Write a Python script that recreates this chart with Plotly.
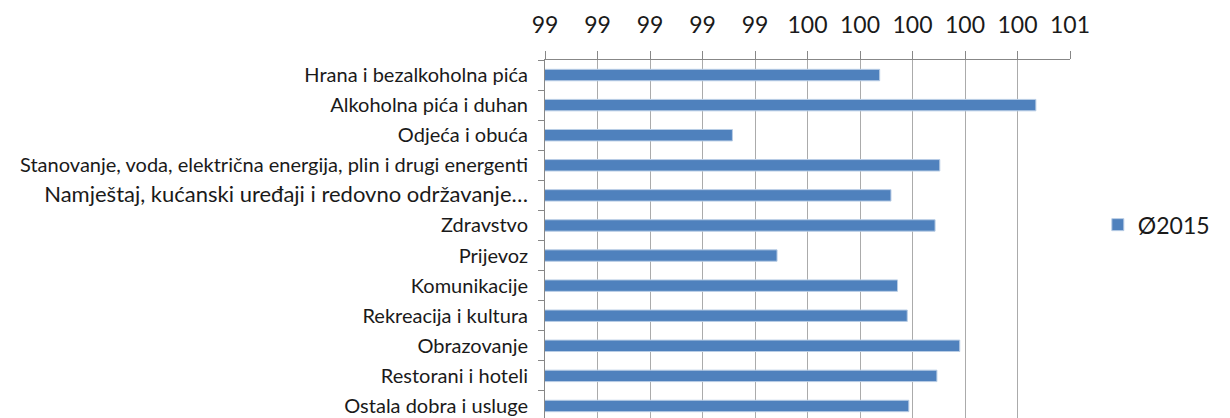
import plotly.graph_objects as go

categories = [
    "Hrana i bezalkoholna pića",
    "Alkoholna pića i duhan",
    "Odjeća i obuća",
    "Stanovanje, voda, električna energija, plin i drugi energenti",
    "Namještaj, kućanski uređaji i redovno održavanje…",
    "Zdravstvo",
    "Prijevoz",
    "Komunikacije",
    "Rekreacija i kultura",
    "Obrazovanje",
    "Restorani i hoteli",
    "Ostala dobra i usluge",
]
values_2015 = [99.875, 100.47, 99.314, 100.104, 99.918, 100.086,
               99.484, 99.943, 99.98, 100.18, 100.093, 99.986]
series_name = "Ø2015"
x_tickvals = [98.6, 98.8, 99.0, 99.2, 99.4, 99.6, 99.8, 100.0, 100.2, 100.4, 100.6]
x_ticktext = ["99", "99", "99", "99", "99", "100", "100", "100", "100", "100", "101"]

# category tick labels (one slightly larger, as in the original)
y_ticktext = [
    ('<span style="font-size:22px">' + c + '</span>') if c.startswith("Namje") else c
    for c in categories
]

FONT = "Lato, 'Liberation Sans', Arial, sans-serif"

fig = go.Figure()
fig.add_trace(go.Bar(
    y=categories,
    x=values_2015,
    orientation="h",
    name=series_name,
    marker=dict(color="#4F81BD", line=dict(color="#B9CDE5", width=1)),
    width=0.38,
    base=0,
    showlegend=True,
))

# page body has an 8px default margin, so the figure is 8px smaller
fig.update_layout(
    width=1222,
    height=410,
    margin=dict(l=537, r=160, t=52, b=0),
    paper_bgcolor="white",
    plot_bgcolor="white",
    font=dict(family=FONT, size=20, color="#1a1a1a"),
    legend=dict(
        x=1.053, y=0.54, xanchor="left", yanchor="middle",
        font=dict(size=23, color="#1a1a1a", family=FONT),
        itemwidth=30,
        bgcolor="rgba(0,0,0,0)",
    ),
    xaxis=dict(
        side="top",
        range=[98.6, 100.6],
        tickmode="array",
        tickvals=x_tickvals,
        ticktext=x_ticktext,
        ticks="outside",
        ticklen=8,
        tickcolor="#878787",
        showline=True,
        linecolor="#878787",
        linewidth=1,
        showgrid=True,
        gridcolor="#ABABAB",
        gridwidth=1,
        zeroline=False,
        tickfont=dict(size=23, color="#1a1a1a", family=FONT),
        ticklabelstandoff=9,
        automargin=False,
    ),
    yaxis=dict(
        type="category",
        categoryorder="array",
        categoryarray=categories,
        tickmode="array",
        tickvals=categories,
        ticktext=y_ticktext,
        range=[11.4, -0.5],
        ticks="outside",
        ticklen=6,
        tickcolor="#878787",
        tickson="boundaries",
        showline=True,
        linecolor="#878787",
        linewidth=1,
        showgrid=False,
        zeroline=False,
        tickfont=dict(size=20, color="#1a1a1a", family=FONT),
        ticklabelstandoff=12,
        automargin=False,
    ),
)

fig.write_html("out.html")
